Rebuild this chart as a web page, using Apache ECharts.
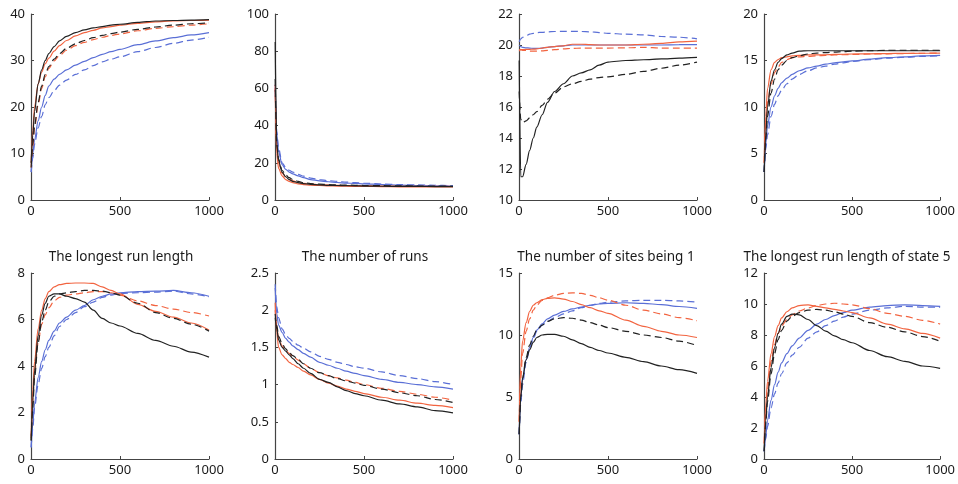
<!DOCTYPE html>
<html>
<head>
<meta charset="utf-8">
<script src="https://cdn.jsdelivr.net/npm/echarts@6/dist/echarts.min.js"></script>
<style>
  html, body { margin: 0; padding: 0; background: #fff; }
  #chart { width: 958px; height: 484px; }
</style>
</head>
<body>
<div id="chart"></div>
<script>
// Shared x positions (iterations)
const xs = [1, 10, 20, 40, 60, 80, 100, 130, 160, 200, 250, 300, 350, 400, 450, 500, 600, 700, 800, 900, 1000];

// Panel titles (top row has none)
const panelTitles = ["", "", "", "", "The longest run length", "The number of runs", "The number of sites being 1", "The longest run length of state 5"];

// y-axis ranges per panel: [min, max, interval]
const yRanges = [[0, 40, 10], [0, 100, 20], [10, 22, 2], [0, 20, 5], [0, 8, 2], [0, 2.5, 0.5], [0, 15, 5], [0, 12, 2]];

// Panel 1
const p1BlackSolid = [8, 14, 19, 25, 28, 30, 31.5, 33, 34.2, 35.2, 36, 36.6, 37, 37.3, 37.6, 37.8, 38.2, 38.5, 38.6, 38.7, 38.8];
const p1BlackDash = [7, 12, 16, 21, 24.5, 27, 28.7, 30.3, 31.5, 32.6, 33.6, 34.3, 34.9, 35.4, 35.8, 36.1, 36.7, 37.2, 37.6, 37.9, 38.1];
const p1RedSolid = [8, 15, 20, 25, 27.5, 29.3, 30.5, 32, 33.2, 34.3, 35.3, 36, 36.5, 37, 37.3, 37.6, 38, 38.3, 38.5, 38.6, 38.7];
const p1RedDash = [7, 11.5, 15.5, 20.5, 24, 26.5, 28.3, 29.9, 31.1, 32.2, 33.2, 33.9, 34.5, 35, 35.4, 35.7, 36.4, 36.9, 37.3, 37.6, 37.9];
const p1BlueSolid = [6, 10, 13, 17, 20, 22.5, 24.5, 26, 27, 28, 29, 29.8, 30.6, 31.3, 31.9, 32.4, 33.4, 34.2, 34.9, 35.5, 36];
const p1BlueDash = [6, 9, 12, 15.5, 18, 20.5, 22, 23.5, 24.7, 25.8, 27, 28, 28.9, 29.7, 30.3, 30.8, 31.9, 32.8, 33.7, 34.4, 35];

// Panel 2
const p2BlackSolid = [85, 30, 21, 15, 12.5, 11, 10, 9.3, 8.8, 8.4, 8.1, 7.9, 7.8, 7.7, 7.6, 7.5, 7.4, 7.3, 7.3, 7.2, 7.2];
const p2BlackDash = [65, 30, 22, 16, 13.5, 12, 11, 10, 9.3, 8.8, 8.5, 8.3, 8.1, 8, 7.9, 7.8, 7.7, 7.6, 7.5, 7.5, 7.4];
const p2RedSolid = [60, 25, 17, 13, 11, 10, 9.3, 8.7, 8.3, 8, 7.8, 7.6, 7.5, 7.4, 7.3, 7.3, 7.2, 7.1, 7.1, 7, 7];
const p2RedDash = [62, 28, 20, 14.5, 12.5, 11.2, 10.3, 9.5, 9, 8.6, 8.3, 8.1, 7.9, 7.8, 7.7, 7.6, 7.5, 7.4, 7.4, 7.3, 7.3];
const p2BlueSolid = [60, 35, 26, 19, 16.5, 15, 14, 13, 12, 11, 10.3, 9.8, 9.4, 9.1, 8.9, 8.7, 8.3, 8, 7.8, 7.6, 7.5];
const p2BlueDash = [62, 37, 28, 20, 17.5, 16, 15, 13.8, 12.8, 11.8, 11, 10.4, 10, 9.6, 9.3, 9, 8.6, 8.3, 8.1, 7.9, 7.7];

// Panel 3
const p3BlackSolid = [19, 11.5, 11.5, 12.3, 13.2, 14, 14.7, 15.5, 16.3, 17, 17.5, 18, 18.2, 18.4, 18.7, 18.9, 19, 19.05, 19.1, 19.15, 19.2];
const p3BlackDash = [17, 15.2, 15, 15.1, 15.3, 15.5, 15.7, 16.1, 16.5, 16.9, 17.3, 17.5, 17.65, 17.8, 17.9, 17.95, 18.1, 18.3, 18.5, 18.7, 18.9];
const p3RedSolid = [19.6, 19.7, 19.7, 19.72, 19.72, 19.73, 19.75, 19.8, 19.85, 19.9, 19.95, 20.05, 20.05, 20.02, 20, 20, 20, 20.05, 20.1, 20.2, 20.25];
const p3RedDash = [19.7, 19.7, 19.65, 19.65, 19.6, 19.6, 19.6, 19.62, 19.65, 19.7, 19.75, 19.78, 19.8, 19.8, 19.8, 19.8, 19.82, 19.85, 19.8, 19.8, 19.8];
const p3BlueSolid = [20, 19.9, 19.85, 19.82, 19.8, 19.78, 19.78, 19.8, 19.85, 19.9, 19.95, 20, 20, 20, 20, 20, 20, 20, 20, 20.02, 20.03];
const p3BlueDash = [20.2, 20.4, 20.5, 20.6, 20.7, 20.75, 20.8, 20.82, 20.85, 20.87, 20.88, 20.88, 20.87, 20.85, 20.8, 20.75, 20.7, 20.65, 20.55, 20.5, 20.4];

// Panel 4
const p4BlackSolid = [3, 7, 10, 12.8, 14, 14.8, 15.2, 15.6, 15.8, 16, 16.05, 16.05, 16.05, 16.05, 16.05, 16.05, 16.05, 16.05, 16.05, 16.05, 16.05];
const p4BlackDash = [3, 6.5, 9, 11.5, 13, 14, 14.5, 15, 15.3, 15.5, 15.7, 15.8, 15.85, 15.9, 15.95, 16, 16.05, 16.1, 16.1, 16.1, 16.1];
const p4RedSolid = [4, 9, 12, 14, 14.8, 15.1, 15.3, 15.4, 15.5, 15.55, 15.6, 15.6, 15.62, 15.65, 15.67, 15.7, 15.72, 15.75, 15.77, 15.78, 15.8];
const p4RedDash = [4, 8, 10.5, 12.5, 13.7, 14.3, 14.8, 15.1, 15.3, 15.4, 15.45, 15.5, 15.55, 15.6, 15.62, 15.65, 15.7, 15.72, 15.75, 15.78, 15.8];
const p4BlueSolid = [3, 6, 8, 10, 11.2, 12, 12.6, 13.1, 13.5, 13.9, 14.2, 14.4, 14.6, 14.75, 14.85, 14.95, 15.15, 15.3, 15.4, 15.5, 15.55];
const p4BlueDash = [3, 5.5, 7, 9, 10.3, 11.2, 11.8, 12.5, 13, 13.5, 13.9, 14.2, 14.4, 14.6, 14.75, 14.9, 15.1, 15.25, 15.35, 15.45, 15.5];

// Panel 5: The longest run length
const p5BlackSolid = [0.8, 2.5, 3.8, 5.3, 6.2, 6.7, 7, 7.1, 7.1, 7, 6.9, 6.75, 6.4, 6.05, 5.85, 5.72, 5.4, 5.1, 4.85, 4.6, 4.38];
const p5BlackDash = [0.8, 2.2, 3.5, 5, 5.9, 6.4, 6.75, 7, 7.1, 7.15, 7.2, 7.25, 7.25, 7.22, 7.15, 7.05, 6.7, 6.3, 6.05, 5.8, 5.5];
const p5RedSolid = [1, 3, 4.2, 5.6, 6.4, 6.9, 7.2, 7.4, 7.5, 7.55, 7.57, 7.57, 7.55, 7.4, 7.25, 7.1, 6.65, 6.35, 6.1, 5.85, 5.55];
const p5RedDash = [0.9, 2.5, 3.7, 5, 5.8, 6.2, 6.5, 6.8, 6.95, 7.05, 7.1, 7.15, 7.2, 7.2, 7.15, 7.05, 6.8, 6.6, 6.45, 6.3, 6.15];
const p5BlueSolid = [0.5, 1.5, 2.4, 3.5, 4.2, 4.7, 5.1, 5.5, 5.85, 6.1, 6.4, 6.6, 6.85, 7, 7.1, 7.15, 7.2, 7.22, 7.25, 7.15, 7];
const p5BlueDash = [0.5, 1.3, 2.2, 3.2, 3.9, 4.4, 4.8, 5.3, 5.7, 6, 6.3, 6.55, 6.75, 6.95, 7.05, 7.12, 7.15, 7.18, 7.22, 7.1, 6.98];

// Panel 6: The number of runs
const p6BlackSolid = [1.9, 1.75, 1.6, 1.5, 1.45, 1.4, 1.35, 1.28, 1.22, 1.15, 1.07, 1.03, 0.97, 0.92, 0.88, 0.85, 0.79, 0.74, 0.7, 0.65, 0.62];
const p6BlackDash = [1.95, 1.8, 1.65, 1.55, 1.48, 1.43, 1.39, 1.34, 1.28, 1.22, 1.16, 1.12, 1.08, 1.05, 1.02, 0.99, 0.94, 0.89, 0.85, 0.8, 0.76];
const p6RedSolid = [2.1, 1.7, 1.5, 1.4, 1.35, 1.3, 1.27, 1.23, 1.18, 1.13, 1.07, 1.02, 0.98, 0.94, 0.91, 0.88, 0.83, 0.79, 0.75, 0.72, 0.69];
const p6RedDash = [2, 1.78, 1.62, 1.52, 1.46, 1.42, 1.38, 1.33, 1.28, 1.22, 1.16, 1.12, 1.09, 1.06, 1.03, 1.0, 0.95, 0.91, 0.87, 0.83, 0.79];
const p6BlueSolid = [2.3, 1.95, 1.8, 1.7, 1.62, 1.57, 1.52, 1.47, 1.42, 1.37, 1.3, 1.26, 1.22, 1.18, 1.15, 1.12, 1.07, 1.03, 1, 0.97, 0.94];
const p6BlueDash = [2.35, 2.05, 1.9, 1.75, 1.67, 1.62, 1.58, 1.53, 1.49, 1.44, 1.38, 1.34, 1.3, 1.27, 1.24, 1.22, 1.17, 1.12, 1.08, 1.04, 1];

// Panel 7: The number of sites being 1
const p7BlackSolid = [2, 5, 6.5, 8, 8.8, 9.4, 9.8, 10, 10.05, 10.05, 9.9, 9.6, 9.3, 9, 8.75, 8.55, 8.2, 7.85, 7.5, 7.2, 6.9];
const p7BlackDash = [2, 5, 6.5, 8.2, 9.2, 9.9, 10.4, 10.8, 11.1, 11.3, 11.4, 11.35, 11.2, 11, 10.8, 10.6, 10.3, 10, 9.8, 9.5, 9.15];
const p7RedSolid = [3, 7.5, 9.5, 11, 11.9, 12.4, 12.6, 12.85, 12.95, 13, 12.9, 12.7, 12.45, 12.2, 11.95, 11.75, 11.2, 10.7, 10.3, 10, 9.8];
const p7RedDash = [3, 6.5, 8.5, 10.3, 11.3, 12, 12.4, 12.8, 13, 13.2, 13.35, 13.4, 13.35, 13.2, 13, 12.8, 12.4, 12, 11.7, 11.4, 11.15];
const p7BlueSolid = [2, 5, 6.5, 8, 9, 9.8, 10.4, 10.9, 11.3, 11.6, 11.9, 12.1, 12.25, 12.4, 12.5, 12.55, 12.6, 12.55, 12.45, 12.3, 12.15];
const p7BlueDash = [2, 4.5, 6, 7.8, 8.9, 9.7, 10.3, 10.8, 11.1, 11.4, 11.7, 11.95, 12.2, 12.4, 12.55, 12.65, 12.75, 12.8, 12.8, 12.75, 12.65];

// Panel 8: The longest run length of state 5
const p8BlackSolid = [0.5, 2.5, 4, 5.9, 7.2, 8.1, 8.7, 9.2, 9.35, 9.3, 9, 8.6, 8.25, 7.95, 7.7, 7.5, 7, 6.6, 6.3, 6, 5.85];
const p8BlackDash = [0.5, 2.3, 3.7, 5.5, 6.8, 7.7, 8.3, 8.9, 9.2, 9.45, 9.6, 9.65, 9.6, 9.5, 9.35, 9.2, 8.8, 8.5, 8.2, 7.9, 7.6];
const p8RedSolid = [1, 3.5, 5, 6.8, 7.9, 8.6, 9.1, 9.5, 9.75, 9.9, 9.95, 9.85, 9.75, 9.65, 9.55, 9.45, 9.1, 8.7, 8.4, 8.1, 7.8];
const p8RedDash = [1, 3, 4.5, 6.3, 7.4, 8.1, 8.6, 9, 9.3, 9.55, 9.75, 9.9, 10, 10.05, 10, 9.95, 9.7, 9.4, 9.2, 8.95, 8.7];
const p8BlueSolid = [0.5, 1.5, 2.5, 3.8, 4.8, 5.6, 6.2, 6.8, 7.3, 7.8, 8.3, 8.7, 9, 9.25, 9.45, 9.6, 9.8, 9.9, 9.95, 9.9, 9.85];
const p8BlueDash = [0.5, 1.3, 2.1, 3.3, 4.2, 4.9, 5.5, 6.2, 6.7, 7.2, 7.8, 8.2, 8.6, 8.9, 9.15, 9.35, 9.6, 9.75, 9.85, 9.8, 9.8];

const panels = [
  [p1BlueDash, p1BlueSolid, p1RedDash, p1RedSolid, p1BlackDash, p1BlackSolid],
  [p2BlueDash, p2BlueSolid, p2RedDash, p2RedSolid, p2BlackDash, p2BlackSolid],
  [p3BlueDash, p3BlueSolid, p3RedDash, p3RedSolid, p3BlackDash, p3BlackSolid],
  [p4BlueDash, p4BlueSolid, p4RedDash, p4RedSolid, p4BlackDash, p4BlackSolid],
  [p5BlueDash, p5BlueSolid, p5RedDash, p5RedSolid, p5BlackDash, p5BlackSolid],
  [p6BlueDash, p6BlueSolid, p6RedDash, p6RedSolid, p6BlackDash, p6BlackSolid],
  [p7BlueDash, p7BlueSolid, p7RedDash, p7RedSolid, p7BlackDash, p7BlackSolid],
  [p8BlueDash, p8BlueSolid, p8RedDash, p8RedSolid, p8BlackDash, p8BlackSolid],
];

const lineColors = ["#5a6fd6", "#5a6fd6", "#f26440", "#f26440", "#222222", "#222222"];
const lineDashed = [true, false, true, false, true, false];

const fontFamily = '"Noto Sans", "Open Sans", sans-serif';
const axisColor = "#444";
const colLefts = [31, 275, 519, 764];
const rowTops = [14, 273];
// title centres sit a little left of each grid's centre, as in the original
const titleCenters = [116, 360, 601, 842];

const chart = echarts.init(document.getElementById("chart"), null, { renderer: "canvas" });

const grids = [];
const xAxes = [];
const yAxes = [];
const titles = [];
const series = [];

panels.forEach((lines, p) => {
  const col = p % 4;
  const row = Math.floor(p / 4);
  const left = colLefts[col];
  const top = rowTops[row];
  grids.push({ left: left, top: top, width: 178, height: 186 });

  xAxes.push({
    type: "value",
    gridIndex: p,
    min: 0,
    max: 1000,
    interval: 500,
    axisLine: { show: true, lineStyle: { color: axisColor, width: 1.2 } },
    axisTick: { show: true, inside: true, length: 3, lineStyle: { color: axisColor } },
    axisLabel: {
      color: "#1a1a1a",
      fontSize: 13,
      fontFamily: fontFamily,
      margin: 5,
      formatter: (v) => String(v),
    },
    splitLine: { show: false },
  });

  const yr = yRanges[p];
  yAxes.push({
    type: "value",
    gridIndex: p,
    min: yr[0],
    max: yr[1],
    interval: yr[2],
    axisLine: { show: true, onZero: false, lineStyle: { color: axisColor, width: 1.2 } },
    axisTick: { show: true, inside: true, length: 3, lineStyle: { color: axisColor } },
    axisLabel: { color: "#1a1a1a", fontSize: 13, fontFamily: fontFamily, margin: 6 },
    splitLine: { show: false },
  });

  if (panelTitles[p]) {
    titles.push({
      text: panelTitles[p],
      left: titleCenters[col],
      top: top - 28,
      textAlign: "center",
      textStyle: { fontSize: 13.5, fontWeight: "normal", color: "#1a1a1a", fontFamily: fontFamily },
    });
  }

  lines.forEach((vals, k) => {
    series.push({
      type: "line",
      xAxisIndex: p,
      yAxisIndex: p,
      data: xs.map((x, i) => [x, vals[i]]),
      showSymbol: false,
      smooth: 0.3,
      smoothMonotone: "x",
      lineStyle: {
        color: lineColors[k],
        width: 1.2,
        type: lineDashed[k] ? [7, 4] : "solid",
      },
      silent: true,
      animation: false,
    });
  });
});

chart.setOption({
  animation: false,
  backgroundColor: "#fff",
  title: titles,
  grid: grids,
  xAxis: xAxes,
  yAxis: yAxes,
  series: series,
});
</script>
</body>
</html>
